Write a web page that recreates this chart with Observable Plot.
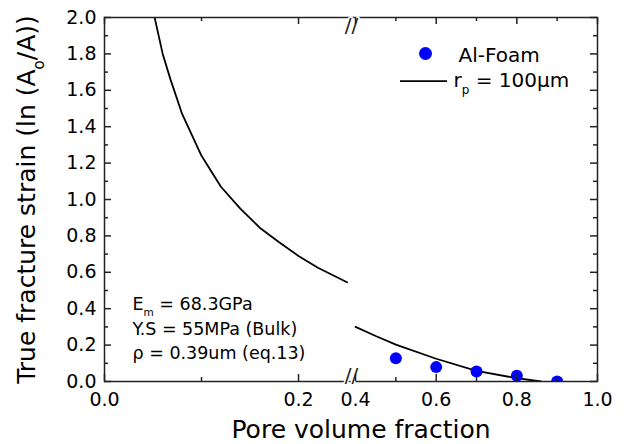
<!DOCTYPE html>
<html><head><meta charset="utf-8">
<script src="https://cdn.jsdelivr.net/npm/d3@7"></script>
<script src="https://cdn.jsdelivr.net/npm/@observablehq/plot@0.6"></script>
<style>body{margin:0;background:#fff}</style>
</head><body><div id="chart"></div>
<script>
// Model curve, left part of the broken axis (pore fraction 0 – 0.25)
const poreLeft   = [0.050, 0.060, 0.068, 0.080, 0.100, 0.120, 0.140, 0.160, 0.180, 0.200, 0.220, 0.250];
const strainLeft = [2.04,  1.80,  1.66,  1.47,  1.24,  1.07,  0.95,  0.845, 0.765, 0.69,  0.625, 0.545];
// Model curve, right part of the broken axis (pore fraction 0.4 – 1.0)
const poreRight   = [0.40, 0.45, 0.50, 0.60, 0.70, 0.80, 0.86];
const strainRight = [0.30, 0.25, 0.203, 0.125, 0.058, 0.018, 0.0];
// Al-Foam measurements
const poreFoam   = [0.5, 0.6, 0.7, 0.8, 0.9];
const strainFoam = [0.128, 0.079, 0.055, 0.031, 0.0];

const xMajorTicks = [0.0, 0.2, 0.4, 0.6, 0.8, 1.0];
const xMinorTicks = [0.1, 0.5, 0.7, 0.9];
const yMajorTicks = [0.0, 0.2, 0.4, 0.6, 0.8, 1.0, 1.2, 1.4, 1.6, 1.8, 2.0];
const yMinorTicks = [0.1, 0.3, 0.5, 0.7, 0.9, 1.1, 1.3, 1.5, 1.7, 1.9];
const xBreak = [0.39];
const yDomain = [0, 2.0];

const xTitle = "Pore volume fraction";
const yTitle = "True fracture strain (ln (A_{o}/A))";
const legendFoam = "Al-Foam";
const legendModel = "r_{p} = 100μm";
const notes = ["E_{m} = 68.3GPa", "Y.S = 55MPa (Bulk)", "ρ = 0.39um (eq.13)"];

const left = poreLeft.map((x, i) => ({x, y: strainLeft[i]}));
const right = poreRight.map((x, i) => ({x, y: strainRight[i]}));
const foam = poreFoam.map((x, i) => ({x, y: strainFoam[i]}));

const W = 627, H = 444, mL = 104, mR = 30, mT = 17, mB = 63;
const fw = W - mL - mR, fh = H - mT - mB;
const axisColor = "#222";
const fmt = d3.format(".1f");
const tk = {stroke: axisColor, strokeWidth: 1.5};
const MAJ = 7, MIN = 4;

const chart = Plot.plot({
  width: W, height: H,
  marginLeft: mL, marginRight: mR, marginTop: mT, marginBottom: mB,
  style: {fontFamily: "DejaVu Sans", fontSize: "19px", color: "#000", background: "#fff"},
  x: {type: "linear", domain: [0, 0.2546, 0.39, 1.0], range: [104, 351, 351, 597], axis: null},
  y: {domain: yDomain, axis: null},
  marks: [
    Plot.line(left, {x: "x", y: "y", stroke: "#000", strokeWidth: 1.8, clip: true}),
    Plot.line(right, {x: "x", y: "y", stroke: "#000", strokeWidth: 1.8, clip: true}),
    Plot.dot(foam, {x: "x", y: "y", r: 6, fill: "#0000ff", stroke: "none", clip: true}),
    Plot.frame({stroke: axisColor, strokeWidth: 1.5}),
    Plot.text(xBreak, {x: d => d, frameAnchor: "bottom", text: () => "//", fontSize: 20, fill: axisColor, stroke: "white", strokeWidth: 3}),
    Plot.text(xBreak, {x: d => d, frameAnchor: "top", text: () => "//", fontSize: 20, fill: axisColor, stroke: "white", strokeWidth: 3}),
    // inward ticks: bottom / top
    Plot.tickX(xMajorTicks, {x: d => d, insetTop: fh - MAJ, ...tk}),
    Plot.tickX(xMinorTicks, {x: d => d, insetTop: fh - MIN, ...tk}),
    Plot.tickX(xMajorTicks, {x: d => d, insetBottom: fh - MAJ, ...tk}),
    Plot.tickX(xMinorTicks, {x: d => d, insetBottom: fh - MIN, ...tk}),
    // inward ticks: left / right
    Plot.tickY(yMajorTicks, {y: d => d, insetRight: fw - MAJ, ...tk}),
    Plot.tickY(yMinorTicks, {y: d => d, insetRight: fw - MIN, ...tk}),
    Plot.tickY(yMajorTicks, {y: d => d, insetLeft: fw - MAJ, ...tk}),
    Plot.tickY(yMinorTicks, {y: d => d, insetLeft: fw - MIN, ...tk}),
    // tick labels
    Plot.axisX(xMajorTicks, {anchor: "bottom", tickSize: 0, tickPadding: 11, tickFormat: fmt, label: null}),
    Plot.axisY(yMajorTicks, {anchor: "left", tickSize: 0, tickPadding: 8, tickFormat: fmt, label: null}),
    // titles
    Plot.text([xTitle], {text: d => d, frameAnchor: "bottom", dx: 10, dy: 56, lineAnchor: "bottom", fontSize: 25}),
    Plot.text([yTitle], {text: d => d, frameAnchor: "left", dx: -78, rotate: -90, lineAnchor: "middle", textAnchor: "middle", fontSize: 25}),
    // legend
    Plot.dot([legendFoam], {frameAnchor: "top-right", dx: -172, dy: 36, r: 6.5, fill: "#0000ff", stroke: "none"}),
    Plot.text([legendFoam], {text: d => d, frameAnchor: "top-right", dx: -139, dy: 44.7, textAnchor: "start", lineAnchor: "bottom", fontSize: 20}),
    Plot.ruleY([yDomain[1]], {dy: 63.7, insetLeft: 296, insetRight: 150, stroke: "#000", strokeWidth: 1.8}),
    Plot.text([legendModel], {text: d => d, frameAnchor: "top-right", dx: -144, dy: 69.7, textAnchor: "start", lineAnchor: "bottom", fontSize: 20}),
    // annotation
    ...notes.map((n, i) => Plot.text([n], {text: d => d, frameAnchor: "bottom-left", dx: 28, dy: -71.7 + i * 24.8, textAnchor: "start", lineAnchor: "bottom", fontSize: 17.5}))
  ]
});

document.getElementById("chart").appendChild(chart);

// render "_{..}" as subscripts
d3.select(chart).selectAll("text").each(function() {
  const s = this.textContent;
  if (!s.includes("_{")) return;
  const fs = parseFloat(getComputedStyle(this).fontSize) || 16;
  const parts = s.split(/(_\{[^}]*\})/).filter(p => p.length);
  this.textContent = "";
  let shifted = false;
  for (const p of parts) {
    const t = document.createElementNS("http://www.w3.org/2000/svg", "tspan");
    const m = p.match(/^_\{(.*)\}$/);
    if (m) {
      t.textContent = m[1];
      t.setAttribute("font-size", fs * 0.6);
      t.setAttribute("dy", fs * 0.36);
      shifted = true;
    } else {
      t.textContent = p;
      if (shifted) { t.setAttribute("dy", -fs * 0.36); shifted = false; }
    }
    this.appendChild(t);
  }
});
</script>
</body></html>
